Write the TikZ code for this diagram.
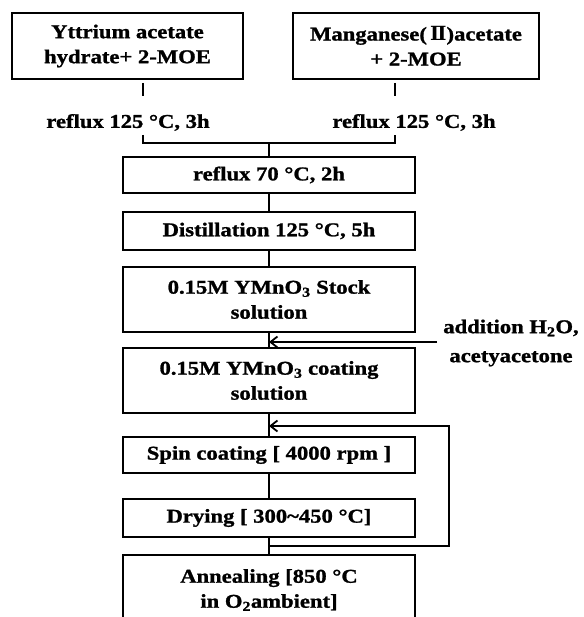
\documentclass[tikz,border=0pt]{standalone}
\usepackage{fontspec}
\setmainfont{Liberation Serif}[FakeStretch=1.16,FakeBold=1.2]
\newfontfamily\romfont{DejaVu Serif}
\usetikzlibrary{arrows.meta}
\begin{document}
\begin{tikzpicture}[x=1pt,y=-1pt,
  stepbox/.style={draw, line width=2.6pt, inner sep=0pt, align=center,
    font=\fontsize{19.5}{25}\selectfont\bfseries},
  lbl/.style={inner sep=0pt, align=center, font=\fontsize{19.5}{25}\selectfont\bfseries},
  conn/.style={line width=1.8pt},
  arr/.style={conn, -{Straight Barb[length=7pt,width=11pt]}}]
\clip (0,0) rectangle (583,617);
\fill[white] (0,0) rectangle (583,617);
% top boxes
\node[stepbox, minimum width=231pt, minimum height=66pt] (A) at (127.5,46) {Yttrium acetate\\hydrate+ 2-MOE};
\node[stepbox, minimum width=246pt, minimum height=66pt] (B) at (416,46) {Manganese(\,{\romfont\bfseries Ⅱ})acetate\\+ 2-MOE};
% short verticals and labels
\coordinate (a1) at (143,83); \coordinate (a2) at (143,96);
\coordinate (b1) at (395,83); \coordinate (b2) at (395,96);
\draw[conn] (a1) -- (a2);
\draw[conn] (b1) -- (b2);
\node[lbl] (L1) at (128,122.5) {reflux 125 °C, 3h};
\node[lbl] (L2) at (414,122.5) {reflux 125 °C, 3h};
% column
\node[stepbox, minimum width=292pt, minimum height=36pt] (B1) at (269,175) {reflux 70 °C, 2h};
\node[stepbox, minimum width=292pt, minimum height=38pt] (B2) at (269,231) {Distillation 125 °C, 5h};
\node[stepbox, minimum width=292pt, minimum height=65pt] (B3) at (269,299.5) {0.15M YMnO\textsubscript{3} Stock\\solution};
\node[stepbox, minimum width=292pt, minimum height=65pt] (B4) at (269,380.5) {0.15M YMnO\textsubscript{3} coating\\solution};
\node[stepbox, minimum width=292pt, minimum height=36pt] (B5) at (269,455) {Spin coating [ 4000 rpm ]};
\node[stepbox, minimum width=292pt, minimum height=38pt] (B6) at (269,518) {Drying [ 300\textasciitilde 450 °C]};
\node[stepbox, minimum width=292pt, minimum height=70pt] (B7) at (269,590) {Annealing [850 °C\\in O\textsubscript{2}ambient]};
% bracket
\coordinate (a3) at (143,135); \coordinate (b3) at (395,135);
\coordinate (jn) at (269,143);
\draw[conn] (a3) |- (jn) -| (b3);
\draw[conn] (jn) -- (B1.north);
\draw[conn] (B1.south) -- (B2.north);
\draw[conn] (B2.south) -- (B3.north);
\draw[conn] (B3.south) -- (B4.north);
\draw[conn] (B4.south) -- (B5.north);
\draw[conn] (B5.south) -- (B6.north);
\draw[conn] (B6.south) -- (B7.north);
% addition
\node[lbl, font=\fontsize{19.5}{29}\selectfont\bfseries] (R) at (511,343) {addition H\textsubscript{2}O,\\acetyacetone};
\coordinate (addS) at (437,342);
\coordinate (addT) at (B3.south |- addS);
\draw[arr] (addS) -- (addT);
% loop
\coordinate (lpS) at (269,546);
\coordinate (lpR) at (449,546);
\coordinate (lpT) at (449,426);
\coordinate (lpE) at (269,426);
\draw[arr] (lpS) -- (lpR) -- (lpT) -- (lpE);
\end{tikzpicture}
\end{document}
